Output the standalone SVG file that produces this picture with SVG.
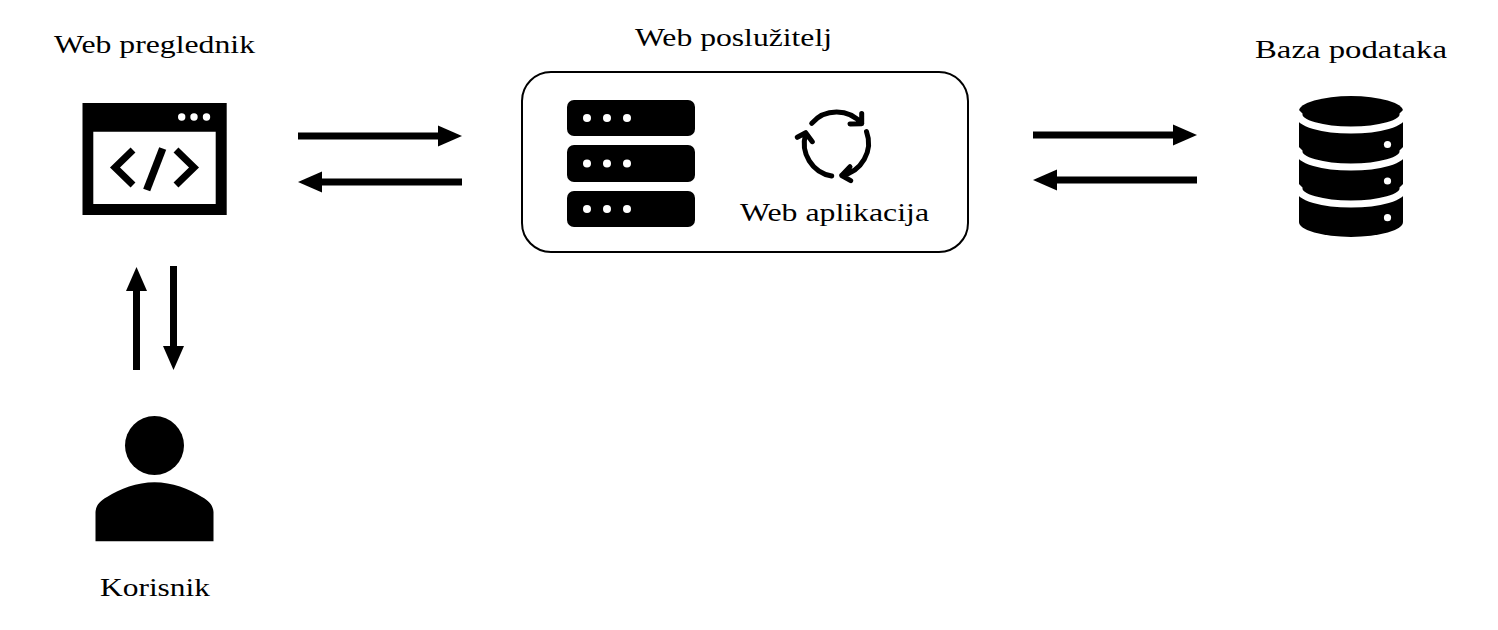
<svg xmlns="http://www.w3.org/2000/svg" width="1498" height="630" viewBox="0 0 1498 630">
<style>
text{font-family:"Liberation Serif","DejaVu Serif",serif;font-size:26px;fill:#000}
.c{stroke:#000;stroke-width:7;fill:none}
.cy{stroke:#000;stroke-width:5;fill:none;stroke-linecap:round;stroke-linejoin:round}
.w{fill:#fff}
</style>
<defs>
<marker id="ah" markerUnits="userSpaceOnUse" markerWidth="24" markerHeight="22" refX="0" refY="10.500" orient="auto" overflow="visible"><path d="M0 0L24 10.500L0 21Z" fill="#000"/></marker>
</defs>
<rect width="1498" height="630" fill="#fff"/>
<g id="connectors">
<path class="c" d="M298 136H438" marker-end="url(#ah)"/>
<path class="c" d="M462 182H322" marker-end="url(#ah)"/>
<path class="c" d="M1033 135H1173" marker-end="url(#ah)"/>
<path class="c" d="M1197 180H1057" marker-end="url(#ah)"/>
<path class="c" d="M136.500 370V291" marker-end="url(#ah)"/>
<path class="c" d="M173.500 266V346" marker-end="url(#ah)"/>
</g>
<g id="browser">
<path d="M82.500 103H226.700V215H82.500ZM93.300 131.700V204H215.700V131.700Z" fill-rule="evenodd"/>
<circle class="w" cx="181.700" cy="117" r="3.700"/><circle class="w" cx="194" cy="117" r="3.700"/><circle class="w" cx="206.500" cy="117" r="3.700"/>
<path d="M133 150L115 167.500L133 185M176 150L194 167.500L176 185" fill="none" stroke="#000" stroke-width="7"/>
<path d="M162.700 148.500L146.700 190" fill="none" stroke="#000" stroke-width="7.500"/>
<text x="54" y="53" textLength="201" lengthAdjust="spacingAndGlyphs">Web preglednik</text>
</g>
<g id="user">
<circle cx="154.500" cy="445.500" r="29.500"/>
<path d="M95.500 541.300V512C96 505 100 501 107 497C120 489 137 482.300 154.500 482.300C172 482.300 189 489 202 497C209 501 213 505 213.500 512V541.300Z"/>
<text x="100" y="596" textLength="110" lengthAdjust="spacingAndGlyphs">Korisnik</text>
</g>
<g id="server">
<rect x="522" y="72" width="446" height="180" rx="29" fill="#fff" stroke="#000" stroke-width="2"/>
<rect x="567" y="100" width="128" height="36" rx="7"/><rect x="567" y="145" width="128" height="37" rx="7"/><rect x="567" y="191" width="128" height="36" rx="7"/>
<g class="w">
<circle cx="587" cy="118" r="4"/><circle cx="607" cy="118" r="4"/><circle cx="627" cy="118" r="4"/>
<circle cx="587" cy="163.500" r="4"/><circle cx="607" cy="163.500" r="4"/><circle cx="627" cy="163.500" r="4"/>
<circle cx="587" cy="209" r="4"/><circle cx="607" cy="209" r="4"/><circle cx="627" cy="209" r="4"/>
</g>
<text x="635" y="46" textLength="197" lengthAdjust="spacingAndGlyphs">Web poslužitelj</text>
</g>
<g id="webapp">
<path class="cy" d="M811.700 123.300A33 33 0 0 1 861.700 123.700M861.700 113.500V123.700L850 124"/>
<path class="cy" d="M866.500 131.700A33 33 0 0 1 841.700 175.500M850 166.700L841.700 175.500L850.700 180.700"/>
<path class="cy" d="M831.700 176A33 33 0 0 1 805.700 134M797.300 137.300L805.700 132.700L812.300 141.700"/>
<text x="740" y="221" textLength="189" lengthAdjust="spacingAndGlyphs">Web aplikacija</text>
</g>
<g id="database">
<path d="M1299 111A52 15 0 0 1 1403 111V222A52 15 0 0 1 1299 222Z"/>
<path d="M1296 112L1299 115A52 15 0 0 0 1403 115L1406 112M1296 149L1299 152A52 15 0 0 0 1403 152L1406 149M1296 186L1299 189A52 15 0 0 0 1403 189L1406 186" fill="none" stroke="#fff" stroke-width="7"/>
<circle class="w" cx="1387.500" cy="144.500" r="3.600"/><circle class="w" cx="1387.500" cy="181" r="3.600"/><circle class="w" cx="1387.500" cy="217.700" r="3.600"/>
<text x="1255" y="58" textLength="192" lengthAdjust="spacingAndGlyphs">Baza podataka</text>
</g>
</svg>
